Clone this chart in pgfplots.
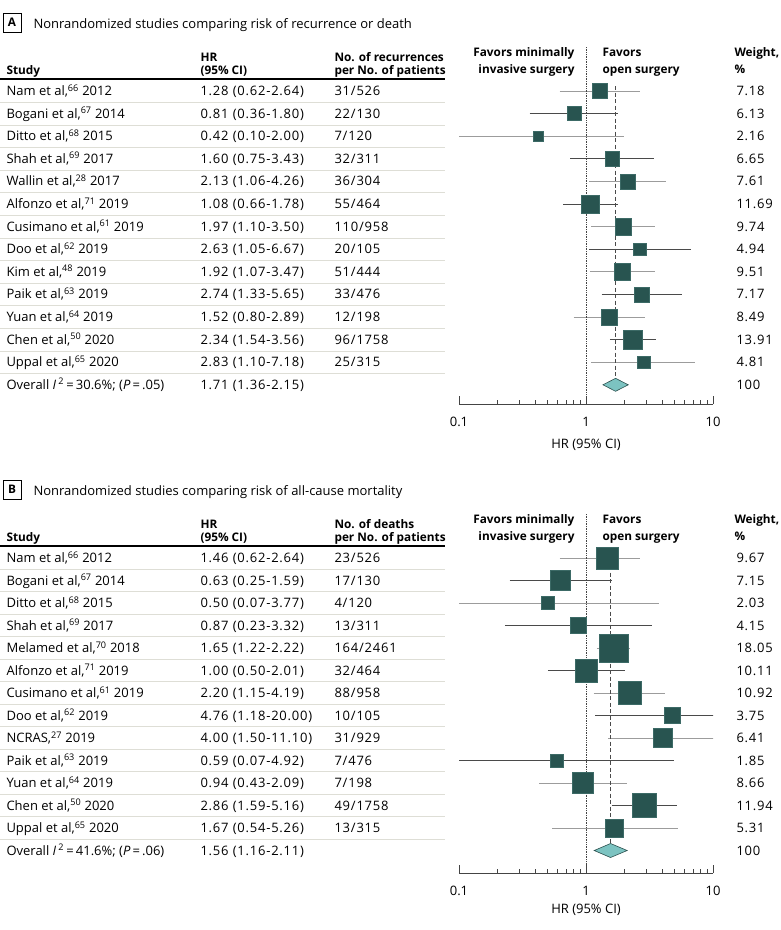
\documentclass[border=0pt]{standalone}
\usepackage{fontspec}
\setmainfont{Open Sans}
\newfontfamily\numfont{Open Sans}[LetterSpace=6]
\usepackage{pgfplots}
\usepackage{pgfplotstable}
\pgfplotsset{compat=1.18}
\definecolor{sqfill}{HTML}{285450}
\definecolor{sqedge}{HTML}{3C6A66}
\definecolor{dmfill}{HTML}{7CC3C1}
\definecolor{dmedge}{HTML}{2B4F4D}
\definecolor{ciL}{HTML}{9C9C9C}
\definecolor{ciD}{HTML}{4A4A4A}
\definecolor{sepc}{HTML}{DEDED6}
\definecolor{axc}{HTML}{444444}

% Panel A: HR, lower, upper, weight, row position (pixel, negative)
\pgfplotstableread{
hr lo hi w y
1.28 0.62 2.64 7.18 -91
0.81 0.36 1.80 6.13 -113.6
0.42 0.10 2.00 2.16 -136.2
1.60 0.75 3.43 6.65 -158.8
2.13 1.06 4.26 7.61 -181.4
1.08 0.66 1.78 11.69 -204
1.97 1.10 3.50 9.74 -226.6
2.63 1.05 6.67 4.94 -249.2
1.92 1.07 3.47 9.51 -271.8
2.74 1.33 5.65 7.17 -294.4
1.52 0.80 2.89 8.49 -317
2.34 1.54 3.56 13.91 -339.6
2.83 1.10 7.18 4.81 -362.2
}\tabA
% Panel B
\pgfplotstableread{
hr lo hi w y
1.46 0.62 2.64 9.67 -558
0.63 0.25 1.59 7.15 -580.5
0.50 0.07 3.77 2.03 -603
0.87 0.23 3.32 4.15 -625.5
1.65 1.22 2.22 18.05 -648
1.00 0.50 2.01 10.11 -670.5
2.20 1.15 4.19 10.92 -693
4.76 1.18 20.00 3.75 -715.5
4.00 1.50 11.10 6.41 -738
0.59 0.07 4.92 1.85 -760.5
0.94 0.43 2.09 8.66 -783
2.86 1.59 5.16 11.94 -805.5
1.67 0.54 5.26 5.31 -828
}\tabB

\pgfplotsset{myforest/.style={
  scale only axis, width=254pt, xmin=0.1, xmax=10,
  anchor=south west,
  axis x line=bottom, axis y line=none,
  axis line style={-, axc, line width=0.8pt},
  xtick={0.1,1,10}, xticklabels={0.1,1,10},
  minor xtick={0.2,0.3,0.4,0.5,0.6,0.7,0.8,0.9,2,3,4,5,6,7,8,9},
  xtick align=inside,
  major tick length=8pt, minor tick length=4.5pt,
  tick style={axc, line width=0.8pt},
  xticklabel style={anchor=base, yshift=-22pt},
  /pgf/number format/assume math mode=true,
  xlabel={HR (95\% CI)},
  clip=true,
}}

\newcommand\trow[5]{%
  \node[anchor=base west] at (2,{-(#1+4.5)}) {#2};
  \node[anchor=base west] at (196,{-(#1+4.5)}) {\numfont #3};
  \node[anchor=base west] at (330,{-(#1+4.5)}) {\numfont #4};
  \node[anchor=base west] at (732,{-(#1+4.5)}) {\numfont #5};}
\newcommand\hfont{\fontsize{11.8}{14}\selectfont\bfseries}
\newcommand\tfont{\fontsize{13}{15}\selectfont}

\begin{document}\fontsize{13}{15}\selectfont%
\begin{tikzpicture}[x=1pt,y=1pt]
\path[use as bounding box] (0,0) rectangle (780,-930);

% ================= PANEL A =================
\node[draw, line width=0.6pt, inner sep=0pt, minimum width=18pt, minimum height=19pt, font=\hfont] at (12,-22.5) {A};
\node[anchor=base west, font=\tfont] at (29,-28) {Nonrandomized studies comparing risk of recurrence or death};
\begin{scope}[font=\hfont]
\node[anchor=base west] at (2,-74) {Study};
\node[anchor=base west] at (196,-61) {HR};
\node[anchor=base west] at (196,-74) {(95\% CI)};
\node[anchor=base west] at (330,-61) {No. of recurrences};
\node[anchor=base west] at (330,-74) {per No. of patients};
\node[anchor=base east] at (579,-56) {Favors minimally};
\node[anchor=base east] at (579,-73) {invasive surgery};
\node[anchor=base west] at (598,-56) {Favors};
\node[anchor=base west] at (598,-73) {open surgery};
\node[anchor=base west] at (730,-56) {Weight,};
\node[anchor=base west] at (730,-73) {\%};
\end{scope}
\draw[black, line width=1.3pt] (0,-79) -- (445,-79);
\foreach \i in {0,...,12} \draw[sepc, line width=0.8pt] (0,{-(102.3+22.6*\i)}) -- (445,{-(102.3+22.6*\i)});
\trow{91}{Nam et al,\textsuperscript{66} 2012}{1.28 (0.62-2.64)}{31/526}{7.18}
\trow{113.6}{Bogani et al,\textsuperscript{67} 2014}{0.81 (0.36-1.80)}{22/130}{6.13}
\trow{136.2}{Ditto et al,\textsuperscript{68} 2015}{0.42 (0.10-2.00)}{7/120}{2.16}
\trow{158.8}{Shah et al,\textsuperscript{69} 2017}{1.60 (0.75-3.43)}{32/311}{6.65}
\trow{181.4}{Wallin et al,\textsuperscript{28} 2017}{2.13 (1.06-4.26)}{36/304}{7.61}
\trow{204}{Alfonzo et al,\textsuperscript{71} 2019}{1.08 (0.66-1.78)}{55/464}{11.69}
\trow{226.6}{Cusimano et al,\textsuperscript{61} 2019}{1.97 (1.10-3.50)}{110/958}{9.74}
\trow{249.2}{Doo et al,\textsuperscript{62} 2019}{2.63 (1.05-6.67)}{20/105}{4.94}
\trow{271.8}{Kim et al,\textsuperscript{48} 2019}{1.92 (1.07-3.47)}{51/444}{9.51}
\trow{294.4}{Paik et al,\textsuperscript{63} 2019}{2.74 (1.33-5.65)}{33/476}{7.17}
\trow{317}{Yuan et al,\textsuperscript{64} 2019}{1.52 (0.80-2.89)}{12/198}{8.49}
\trow{339.6}{Chen et al,\textsuperscript{50} 2020}{2.34 (1.54-3.56)}{96/1758}{13.91}
\trow{362.2}{Uppal et al,\textsuperscript{65} 2020}{2.83 (1.10-7.18)}{25/315}{4.81}
\trow{384.8}{Overall \textit{I}\,\textsuperscript{2}\,=\,30.6\%; (\textit{P}\,=\,.05)}{1.71 (1.36-2.15)}{}{100}

\begin{axis}[xmode=log, myforest, at={(459pt,-404pt)}, height=364pt, ymin=-404, ymax=-40,
  xlabel style={at={(axis description cs:0.5,0)}, anchor=base, yshift=-44pt}]
\pgfplotsinvokeforeach{0,...,12}{
  \pgfplotstablegetelem{#1}{lo}\of\tabA \let\cLo\pgfplotsretval
  \pgfplotstablegetelem{#1}{hi}\of\tabA \let\cHi\pgfplotsretval
  \pgfplotstablegetelem{#1}{y}\of\tabA \let\cY\pgfplotsretval
  \ifodd#1 \def\cc{ciD}\else\def\cc{ciL}\fi
  \edef\tmp{\noexpand\addplot[\cc, line width=1pt, forget plot] coordinates {(\cLo,\cY) (\cHi,\cY)};}\tmp
}
\addplot[axc, densely dotted, line width=0.7pt] coordinates {(1,-47) (1,-404)};
\addplot[ciD, dash pattern=on 4pt off 2.5pt, line width=1.3pt] coordinates {(1.71,-86) (1.71,-378)};
\addplot[scatter, only marks, mark=square*,
  scatter/use mapped color={draw=sqedge, fill=sqfill},
  mark options={line width=0.4pt},
  visualization depends on={(3.7+4.1*sqrt(\thisrow{w}))/2 \as \msz},
  scatter/@pre marker code/.append style={/tikz/mark size=\msz}]
  table[x=hr, y=y] {\tabA};
\addplot[fill=dmfill, draw=dmedge, line width=0.6pt] coordinates {(1.36,-384.8) (1.71,-378.3) (2.15,-384.8) (1.71,-391.3)} -- cycle;
\end{axis}

% ================= PANEL B =================
\node[draw, line width=0.6pt, inner sep=0pt, minimum width=18pt, minimum height=19pt, font=\hfont] at (12,-489.5) {B};
\node[anchor=base west, font=\tfont] at (29,-495) {Nonrandomized studies comparing risk of all-cause mortality};
\begin{scope}[font=\hfont]
\node[anchor=base west] at (2,-541) {Study};
\node[anchor=base west] at (196,-528) {HR};
\node[anchor=base west] at (196,-541) {(95\% CI)};
\node[anchor=base west] at (330,-528) {No. of deaths};
\node[anchor=base west] at (330,-541) {per No. of patients};
\node[anchor=base east] at (579,-523) {Favors minimally};
\node[anchor=base east] at (579,-540) {invasive surgery};
\node[anchor=base west] at (598,-523) {Favors};
\node[anchor=base west] at (598,-540) {open surgery};
\node[anchor=base west] at (730,-523) {Weight,};
\node[anchor=base west] at (730,-540) {\%};
\end{scope}
\draw[black, line width=1.3pt] (0,-546) -- (445,-546);
\foreach \i in {0,...,12} \draw[sepc, line width=0.8pt] (0,{-(569.25+22.5*\i)}) -- (445,{-(569.25+22.5*\i)});
\trow{558}{Nam et al,\textsuperscript{66} 2012}{1.46 (0.62-2.64)}{23/526}{9.67}
\trow{580.5}{Bogani et al,\textsuperscript{67} 2014}{0.63 (0.25-1.59)}{17/130}{7.15}
\trow{603}{Ditto et al,\textsuperscript{68} 2015}{0.50 (0.07-3.77)}{4/120}{2.03}
\trow{625.5}{Shah et al,\textsuperscript{69} 2017}{0.87 (0.23-3.32)}{13/311}{4.15}
\trow{648}{Melamed et al,\textsuperscript{70} 2018}{1.65 (1.22-2.22)}{164/2461}{18.05}
\trow{670.5}{Alfonzo et al,\textsuperscript{71} 2019}{1.00 (0.50-2.01)}{32/464}{10.11}
\trow{693}{Cusimano et al,\textsuperscript{61} 2019}{2.20 (1.15-4.19)}{88/958}{10.92}
\trow{715.5}{Doo et al,\textsuperscript{62} 2019}{4.76 (1.18-20.00)}{10/105}{3.75}
\trow{738}{NCRAS,\textsuperscript{27} 2019}{4.00 (1.50-11.10)}{31/929}{6.41}
\trow{760.5}{Paik et al,\textsuperscript{63} 2019}{0.59 (0.07-4.92)}{7/476}{1.85}
\trow{783}{Yuan et al,\textsuperscript{64} 2019}{0.94 (0.43-2.09)}{7/198}{8.66}
\trow{805.5}{Chen et al,\textsuperscript{50} 2020}{2.86 (1.59-5.16)}{49/1758}{11.94}
\trow{828}{Uppal et al,\textsuperscript{65} 2020}{1.67 (0.54-5.26)}{13/315}{5.31}
\trow{850.5}{Overall \textit{I}\,\textsuperscript{2}\,=\,41.6\%; (\textit{P}\,=\,.06)}{1.56 (1.16-2.11)}{}{100}

\begin{axis}[xmode=log, myforest, at={(459pt,-873pt)}, height=366pt, ymin=-873, ymax=-507,
  xlabel style={at={(axis description cs:0.5,0)}, anchor=base, yshift=-40pt}]
\pgfplotsinvokeforeach{0,...,12}{
  \pgfplotstablegetelem{#1}{lo}\of\tabB \let\cLo\pgfplotsretval
  \pgfplotstablegetelem{#1}{hi}\of\tabB \let\cHi\pgfplotsretval
  \pgfplotstablegetelem{#1}{y}\of\tabB \let\cY\pgfplotsretval
  \ifodd#1 \def\cc{ciD}\else\def\cc{ciL}\fi
  \edef\tmp{\noexpand\addplot[\cc, line width=1pt, forget plot] coordinates {(\cLo,\cY) (\cHi,\cY)};}\tmp
}
\addplot[axc, densely dotted, line width=0.7pt] coordinates {(1,-514) (1,-873)};
\addplot[ciD, dash pattern=on 4pt off 2.5pt, line width=1.3pt] coordinates {(1.56,-553) (1.56,-843.5)};
\addplot[scatter, only marks, mark=square*,
  scatter/use mapped color={draw=sqedge, fill=sqfill},
  mark options={line width=0.4pt},
  visualization depends on={(5+5.5*sqrt(\thisrow{w}))/2 \as \msz},
  scatter/@pre marker code/.append style={/tikz/mark size=\msz}]
  table[x=hr, y=y] {\tabB};
\addplot[fill=dmfill, draw=dmedge, line width=0.6pt] coordinates {(1.16,-850.5) (1.56,-843.5) (2.11,-850.5) (1.56,-857.5)} -- cycle;
\end{axis}
\end{tikzpicture}
\end{document}
